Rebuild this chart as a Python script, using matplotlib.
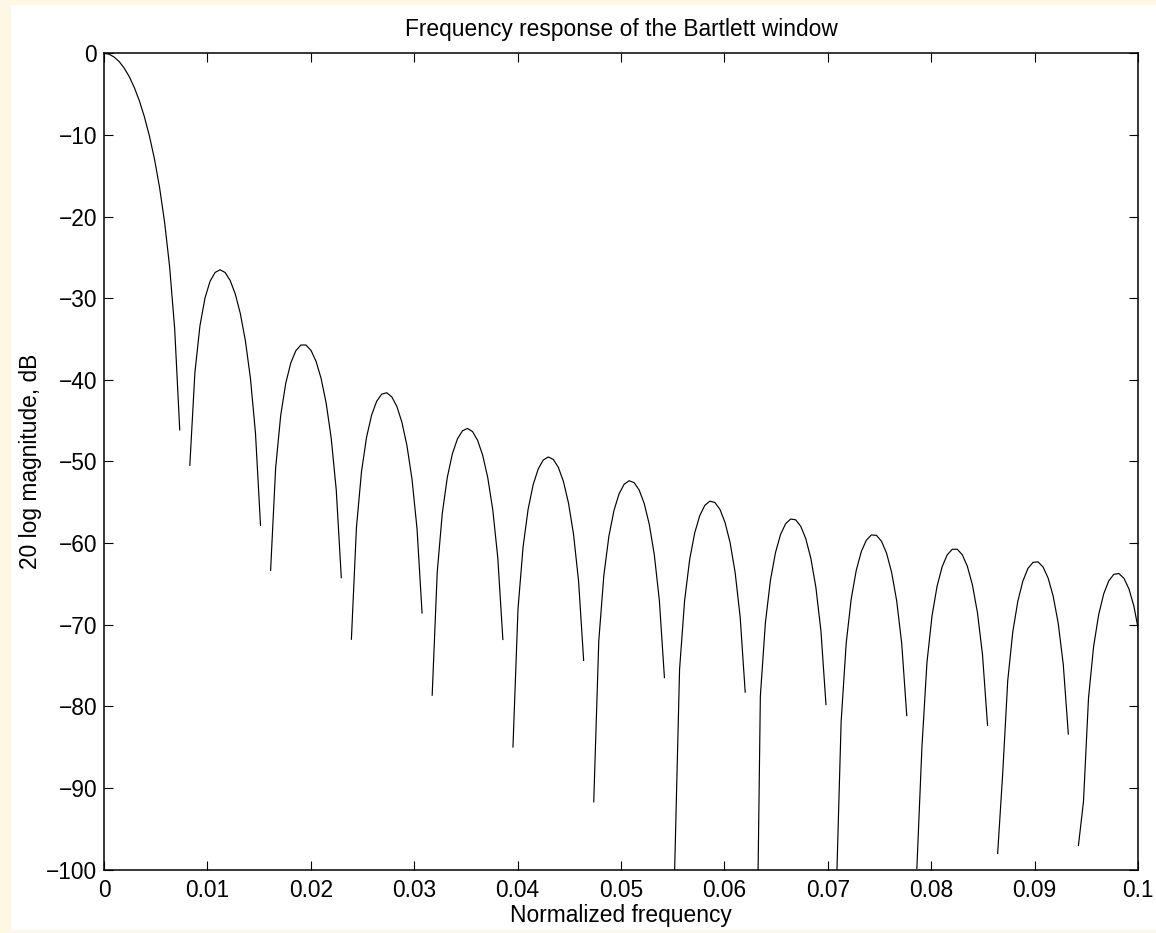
import numpy as np
import matplotlib
matplotlib.use("Agg")
import matplotlib.pyplot as plt
from matplotlib.patches import Rectangle

nan = float("nan")

# Sampling step of the frequency axis (normalized frequency per sample)
freq_step = 1.0 / 2048

# 20 log magnitude (dB) at each frequency sample
# (nan = exact null, where the curve is broken)
mag_db = [
    0.00, -0.11, -0.45, -1.01, -1.81, -2.86, -4.19, -5.81,
    -7.78, -10.14, -12.97, -16.42, -20.68, -26.17, -33.75, -46.14,
    nan, -50.48, -39.15, -33.40, -29.99, -27.94, -26.85, -26.52,
    -26.86, -27.85, -29.49, -31.88, -35.20, -39.80, -46.51, -57.84,
    nan, -63.34, -50.77, -44.36, -40.42, -37.93, -36.44, -35.74,
    -35.74, -36.40, -37.74, -39.83, -42.85, -47.14, -53.49, -64.24,
    nan, -71.79, -58.09, -51.26, -47.05, -44.33, -42.64, -41.76,
    -41.59, -42.09, -43.26, -45.19, -48.05, -52.15, -58.25, -68.58,
    nan, -78.65, -63.58, -56.38, -51.95, -49.07, -47.25, -46.25,
    -45.96, -46.35, -47.42, -49.24, -51.96, -55.92, -61.83, -71.82,
    nan, -84.99, -68.08, -60.50, -55.87, -52.86, -50.93, -49.83,
    -49.46, -49.76, -50.74, -52.47, -55.10, -58.94, -64.69, -74.38,
    nan, -91.71, -71.98, -63.98, -59.17, -56.03, -54.00, -52.82,
    -52.37, -52.60, -53.51, -55.16, -57.71, -61.45, -67.05, -76.49,
    nan, -100.65, -75.49, -67.03, -62.02, -58.76, -56.64, -55.39,
    -54.87, -55.04, -55.88, -57.47, -59.93, -63.58, -69.05, -78.27,
    nan, -126.44, -78.77, -69.77, -64.55, -61.17, -58.96, -57.64,
    -57.06, -57.16, -57.95, -59.47, -61.87, -65.43, -70.78, -79.80,
    nan, -103.84, -81.92, -72.29, -66.84, -63.33, -61.04, -59.65,
    -59.01, -59.06, -59.79, -61.25, -63.59, -67.07, -72.31, -81.14,
    nan, -99.86, -85.05, -74.63, -68.94, -65.30, -62.92, -61.46,
    -60.77, -60.76, -61.44, -62.85, -65.12, -68.53, -73.67, -82.33,
    nan, -98.04, -88.26, -76.85, -70.89, -67.12, -64.65, -63.12,
    -62.37, -62.31, -62.94, -64.30, -66.51, -69.84, -74.89, -83.40,
    nan, -97.06, -91.70, -78.98, -72.72, -68.81, -66.24, -64.65,
    -63.84, -63.73, -64.31, -65.61, -67.77, -71.04, -75.99,
]

freq = np.arange(len(mag_db)) * freq_step

x_ticks = [0, 0.01, 0.02, 0.03, 0.04, 0.05, 0.06, 0.07, 0.08, 0.09, 0.1]
x_tick_labels = ["0", "0.01", "0.02", "0.03", "0.04", "0.05", "0.06",
                 "0.07", "0.08", "0.09", "0.1"]
y_ticks = [-100, -90, -80, -70, -60, -50, -40, -30, -20, -10, 0]
y_tick_labels = ["\u2212100", "\u221290", "\u221280", "\u221270", "\u221260",
                 "\u221250", "\u221240", "\u221230", "\u221220", "\u221210", "0"]

plt.rcParams["font.family"] = ["Liberation Sans", "DejaVu Sans"]

W, H = 1156, 933
fs = 16.4
fig = plt.figure(figsize=(W / 100, H / 100), dpi=100, facecolor="#fdf8e3")
bg = Rectangle((11 / W, 3 / H), 1 - 11 / W, (930 - 5) / H,
               transform=fig.transFigure, facecolor="white",
               edgecolor="none", zorder=-10)
fig.add_artist(bg)

ax = fig.add_axes([104 / W, 1 - 869.5 / H, (1138 - 104) / W, (869.5 - 53.3) / H])
ax.set_zorder(1)
ax.set_facecolor("white")
ax.plot(freq, mag_db, color="black", linewidth=0.85)

ax.set_xlim(0, 0.1)
ax.set_ylim(-100, 0)
ax.set_xticks(x_ticks)
ax.set_xticklabels(x_tick_labels)
ax.set_yticks(y_ticks)
ax.set_yticklabels(y_tick_labels)

ax.tick_params(axis="both", direction="in", length=6.5, width=0.8,
               top=True, right=True, labelsize=fs, colors="black")
ax.tick_params(axis="x", pad=7)
ax.tick_params(axis="y", pad=5)
for s in ax.spines.values():
    s.set_linewidth(1.1)
    s.set_color("black")

ax.set_title("Frequency response of the Bartlett window", fontsize=fs, pad=12.5)
ax.set_xlabel("Normalized frequency", fontsize=fs, labelpad=1.5)
ax.set_ylabel("20 log magnitude, dB", fontsize=fs, labelpad=2.5)

fig.savefig("out.png", dpi=100, facecolor=fig.get_facecolor())
